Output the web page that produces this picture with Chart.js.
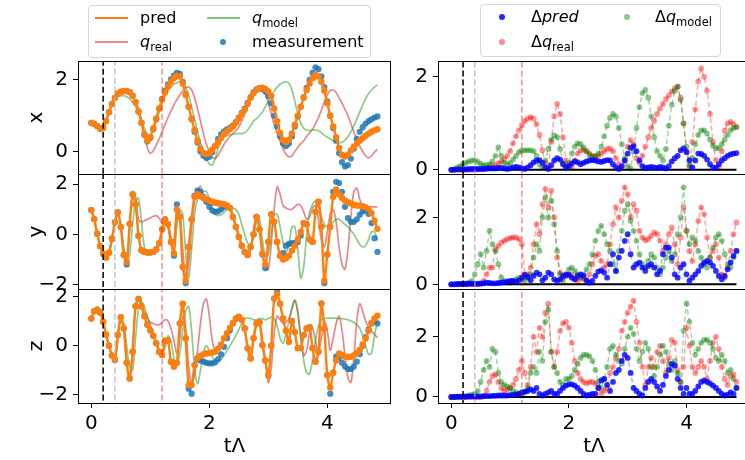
<!DOCTYPE html>
<html><head><meta charset="utf-8">
<script src="https://cdn.jsdelivr.net/npm/chart.js@4.4.0/dist/chart.umd.min.js"></script>
<style>
html,body{margin:0;padding:0;background:#fff;overflow:hidden;width:745px;height:460px;position:relative;font-family:"DejaVu Sans",sans-serif;}
canvas{position:absolute;}
.lg{position:absolute;border:1px solid #d6d6d6;border-radius:4px;background:rgba(255,255,255,0.9);z-index:5;box-sizing:border-box;}
.sw{position:absolute;z-index:6;}
.dot{position:absolute;z-index:6;width:6px;height:6px;border-radius:50%;}
.lt{position:absolute;z-index:6;font-size:16px;line-height:18px;white-space:nowrap;color:#000;}
.lt sub{font-size:11.5px;vertical-align:-4px;line-height:0;}
.lt i{font-style:italic;}
</style></head><body>
<canvas id="cL1"></canvas><canvas id="cL2"></canvas><canvas id="cL3"></canvas>
<canvas id="cR1"></canvas><canvas id="cR2"></canvas><canvas id="cR3"></canvas>

<div class="lg" style="left:88px;top:5px;width:283px;height:53px"></div>
<div class="sw" style="left:95px;top:17px;width:33px;height:2px;background:#ff7f0e"></div>
<div class="lt" style="left:140px;top:9px">pred</div>
<div class="sw" style="left:207px;top:17px;width:33px;height:2px;background:rgba(44,160,44,0.6)"></div>
<div class="lt" style="left:252px;top:9px"><i>q</i><sub>model</sub></div>
<div class="sw" style="left:95px;top:41px;width:33px;height:2px;background:rgba(214,39,40,0.55)"></div>
<div class="lt" style="left:140px;top:33px"><i>q</i><sub>real</sub></div>
<div class="dot" style="left:220px;top:39px;background:rgba(31,119,180,0.85)"></div>
<div class="lt" style="left:252px;top:33px">measurement</div>

<div class="lg" style="left:480px;top:4px;width:241px;height:53px"></div>
<div class="dot" style="left:499px;top:14px;background:rgba(0,0,255,0.85)"></div>
<div class="lt" style="left:531px;top:8px">Δ<i>pred</i></div>
<div class="dot" style="left:624px;top:14px;background:rgba(0,128,0,0.45)"></div>
<div class="lt" style="left:655px;top:8px">Δ<i>q</i><sub>model</sub></div>
<div class="dot" style="left:499px;top:39px;background:rgba(255,0,0,0.45)"></div>
<div class="lt" style="left:531px;top:33px">Δ<i>q</i><sub>real</sub></div>

<script>
// ---- data ----
const t = [0,0.05,0.1,0.15,0.2,0.25,0.3,0.35,0.4,0.45,
0.5,0.55,0.6,0.65,0.7,0.75,0.8,0.85,0.9,0.95,
1,1.05,1.1,1.15,1.2,1.25,1.3,1.35,1.4,1.45,
1.5,1.55,1.6,1.65,1.7,1.75,1.8,1.85,1.9,1.95,
2,2.05,2.1,2.15,2.2,2.25,2.3,2.35,2.4,2.45,
2.5,2.55,2.6,2.65,2.7,2.75,2.8,2.85,2.9,2.95,
3,3.05,3.1,3.15,3.2,3.25,3.3,3.35,3.4,3.45,
3.5,3.55,3.6,3.65,3.7,3.75,3.8,3.85,3.9,3.95,
4,4.05,4.1,4.15,4.2,4.25,4.3,4.35,4.4,4.45,
4.5,4.55,4.6,4.65,4.7,4.75,4.8,4.85];

const xPred = [0.8,0.77,0.71,0.64,0.66,0.85,1.1,1.33,1.5,1.62,
1.67,1.69,1.69,1.66,1.56,1.38,1.12,0.8,0.48,0.3,
0.4,0.65,0.92,1.2,1.45,1.65,1.82,1.95,2.05,2.12,
2.1,1.9,1.58,1.25,0.92,0.6,0.3,0.08,-0.04,-0.08,
-0.04,0.05,0.15,0.26,0.38,0.49,0.57,0.63,0.7,0.8,
0.92,1.05,1.17,1.33,1.5,1.63,1.72,1.77,1.78,1.75,
1.68,1.55,1.2,0.85,0.52,0.32,0.26,0.33,0.5,0.75,
1.0,1.25,1.5,1.72,1.9,2.05,2.14,2.1,1.95,1.7,
1.35,1.0,0.7,0.4,0.1,-0.1,-0.14,-0.08,0.03,0.13,
0.22,0.3,0.37,0.44,0.5,0.55,0.59,0.62];
const xMeas = [0.8,0.77,0.71,0.64,0.66,0.85,1.1,1.33,1.5,1.62,
1.67,1.69,1.69,1.66,1.56,1.38,1.12,0.8,0.46,0.28,
0.38,0.62,0.9,1.2,1.47,1.7,1.88,2.02,2.12,2.2,
2.17,1.95,1.6,1.25,0.9,0.55,0.25,0.0,-0.12,-0.18,
-0.15,-0.02,0.15,0.35,0.48,0.56,0.62,0.66,0.72,0.82,
0.95,1.08,1.2,1.36,1.52,1.65,1.74,1.77,1.75,1.68,
1.55,1.35,1.0,0.7,0.42,0.22,0.15,0.22,0.42,0.7,
0.98,1.25,1.52,1.78,2.0,2.2,2.35,2.3,2.1,1.8,
1.4,1.0,0.65,0.3,-0.05,-0.3,-0.42,-0.38,-0.2,0.08,
0.35,0.55,0.68,0.78,0.85,0.9,0.95,0.98];
const xReal = [0.8,0.77,0.71,0.64,0.66,0.85,1.1,1.33,1.5,1.62,
1.67,1.69,1.68,1.63,1.55,1.4,1.2,0.85,0.45,0.1,
-0.05,0.02,0.18,0.35,0.55,0.75,0.95,1.13,1.3,1.45,
1.58,1.7,1.78,1.8,1.72,1.5,1.2,0.85,0.5,0.2,
0.0,-0.15,-0.2,-0.1,0.05,0.2,0.32,0.42,0.5,0.58,
0.68,0.85,1.05,1.3,1.5,1.62,1.7,1.75,1.72,1.6,
1.35,1.05,0.75,0.5,0.28,0.08,-0.08,-0.15,-0.12,0.0,
0.12,0.22,0.3,0.42,0.52,0.62,0.78,0.95,1.15,1.38,
1.58,1.7,1.72,1.65,1.5,1.35,1.18,1.0,0.78,0.55,
0.35,0.15,0.0,-0.12,-0.18,-0.12,-0.02,0.06];
const xModel = [0.8,0.77,0.71,0.65,0.7,0.88,1.1,1.3,1.45,1.53,
1.56,1.56,1.53,1.47,1.38,1.25,1.1,0.9,0.65,0.47,
0.45,0.6,0.85,1.1,1.35,1.55,1.7,1.8,1.87,1.92,
1.95,1.93,1.8,1.55,1.25,0.9,0.55,0.25,0.0,-0.2,
-0.35,-0.38,-0.2,0.1,0.3,0.4,0.45,0.47,0.48,0.5,
0.5,0.5,0.52,0.6,0.72,0.85,0.92,1.0,1.1,1.25,
1.4,1.55,1.68,1.8,1.88,1.93,1.95,1.9,1.72,1.4,
1.05,0.8,0.65,0.6,0.58,0.6,0.6,0.58,0.52,0.45,
0.4,0.35,0.3,0.26,0.24,0.26,0.32,0.42,0.55,0.72,
0.9,1.1,1.3,1.48,1.62,1.72,1.8,1.86];

const yPred = [0.97,0.61,0.03,-0.47,-0.78,-0.92,-0.73,-0.17,0.48,0.88,
0.29,-0.82,-1.1,0.42,1.6,1.2,-0.05,-0.63,-0.7,-0.72,
-0.72,-0.7,-0.6,-0.35,0.2,0.6,0.4,-0.3,-0.76,1.0,
0.7,-1.3,-1.85,-0.5,0.6,1.5,1.6,1.52,1.45,1.4,
1.35,1.3,1.27,1.24,1.22,1.2,1.15,1.05,0.7,0.3,
-0.1,-0.45,-0.7,-0.82,-0.5,0.0,0.7,0.2,-0.76,-1.2,
-0.3,0.8,0.5,-0.3,-0.85,-1.0,-0.95,-0.85,-0.65,-0.45,
-0.2,0.1,0.45,0.4,-0.2,-0.3,0.9,1.3,0.3,-1.85,
-0.8,0.3,1.5,1.79,1.6,1.45,1.35,1.28,1.23,1.18,
1.15,1.14,1.12,1.08,1.0,0.85,0.55,0.22];
const yMeas = [0.97,0.61,0.03,-0.47,-0.78,-0.92,-0.73,-0.17,0.48,0.88,
0.29,-0.82,-1.2,0.42,1.6,1.2,-0.05,-0.63,-0.7,-0.72,
-0.72,-0.7,-0.6,-0.35,0.2,0.6,0.4,-0.3,-0.85,1.2,
0.7,-1.3,-1.95,-0.5,0.6,1.55,1.75,1.7,1.5,1.3,
1.1,0.95,0.9,0.92,1.0,1.1,1.12,1.05,0.7,0.3,
-0.1,-0.45,-0.7,-0.82,-0.5,0.0,0.7,0.2,-0.8,-1.35,
-0.3,0.8,0.5,-0.3,-0.85,-0.75,-0.45,-0.38,-0.35,-0.35,
-0.3,-0.05,0.45,0.4,-0.2,-0.3,0.9,1.3,0.3,-1.95,
-0.8,0.3,1.7,2.1,2.05,1.7,1.1,0.65,0.5,0.5,
0.6,0.78,0.92,0.95,0.82,0.45,-0.15,-0.7];
const yReal = [0.97,0.61,0.03,-0.47,-0.78,-0.92,-0.73,-0.17,0.48,0.88,
0.35,-0.75,-1.2,0.2,1.65,1.5,0.6,0.5,0.55,0.6,
0.65,0.72,0.75,0.65,0.45,0.5,0.3,-0.3,-0.2,0.9,
0.9,-0.6,-1.75,-1.2,0.3,1.3,1.75,1.92,1.5,1.25,
1.2,1.18,1.17,1.16,1.16,1.15,1.12,1.05,0.8,0.4,
0.0,-0.4,-0.75,-0.9,-0.6,0.2,0.8,0.3,-0.7,-1.3,
-1.4,-0.4,1.0,1.9,1.6,1.15,1.05,1.0,1.0,1.1,
1.2,1.15,0.9,0.6,0.7,1.05,1.15,0.6,-0.2,-0.5,
0.1,0.8,1.0,0.5,-0.5,-1.2,-1.4,-0.6,0.7,1.7,
1.85,1.4,1.15,1.12,1.1,1.1,1.1,1.1];
const yModel = [0.97,0.61,0.03,-0.47,-0.78,-0.92,-0.73,-0.2,0.4,0.8,
0.4,-0.5,-1.1,-0.8,0.4,1.3,1.45,0.5,-0.5,-0.65,
-0.7,-0.68,-0.55,-0.3,0.1,0.45,0.4,-0.1,-0.6,0.3,
1.0,0.8,-0.8,-1.75,-0.6,0.8,1.4,1.6,1.7,1.72,
1.4,1.0,0.8,0.75,0.78,0.88,1.0,1.05,1.05,1.0,
0.8,0.4,0.0,-0.35,-0.4,-0.1,0.5,0.6,-0.2,-0.9,
-0.8,0.1,0.8,0.8,0.3,-0.3,-0.7,-0.4,0.3,0.3,
-0.6,-1.75,-1.3,0.0,0.9,1.2,1.33,1.1,0.7,0.4,
0.3,0.35,0.5,0.6,0.6,0.5,0.4,0.3,0.15,0.0,
-0.2,-0.4,-0.5,-0.45,-0.2,0.1,0.1,-0.24];

const zPred = [1.1,1.4,1.46,1.35,0.97,0.45,0.0,-0.4,-0.58,0.43,
1.15,0.7,-0.7,-1.33,-0.25,1.6,1.9,1.6,1.2,0.85,
0.62,0.4,0.1,-0.25,-0.38,0.2,0.2,-0.65,-0.85,-0.7,
0.9,1.7,0.3,-1.6,-1.6,-0.79,-0.5,-0.42,-0.35,-0.32,
-0.3,-0.28,-0.25,-0.12,0.05,0.3,0.5,0.72,0.92,1.1,
1.17,1.05,0.7,-0.11,-0.52,0.3,0.9,0.95,0.02,-0.6,
-1.2,0.0,1.91,2.1,1.7,1.1,0.6,0.16,1.0,0.55,
-0.1,-0.1,0.43,0.7,0.75,-0.1,-0.65,-0.25,1.71,0.7,
-1.2,-1.7,-1.1,-0.6,-0.32,-0.38,-0.45,-0.46,-0.45,-0.4,
-0.3,-0.18,0.05,0.29,0.6,0.92,1.1,1.22];
const zMeas = [1.1,1.4,1.46,1.35,0.97,0.45,0.0,-0.4,-0.58,0.43,
1.15,0.7,-0.7,-1.33,-0.25,1.6,1.9,1.6,1.2,0.85,
0.62,0.4,0.1,-0.25,-0.38,0.2,0.2,-0.65,-0.85,-0.7,
0.9,1.7,0.3,-1.75,-1.95,-0.79,-0.55,-0.6,-0.65,-0.7,
-0.72,-0.72,-0.68,-0.55,-0.35,-0.05,0.3,0.62,0.9,1.08,
1.17,1.05,0.7,-0.11,-0.52,0.3,0.9,0.95,0.02,-0.6,
-1.2,0.0,1.91,2.2,1.7,1.1,0.6,0.16,1.0,0.55,
-0.1,-0.1,0.43,0.7,0.75,-0.1,-0.65,-0.25,1.71,0.7,
-1.2,-1.95,-1.1,-0.45,-0.5,-0.7,-0.85,-0.95,-0.95,-0.85,
-0.65,-0.35,0.0,0.35,0.65,0.9,1.0,0.9];
const zReal = [1.1,1.4,1.46,1.35,0.97,0.45,0.0,-0.4,-0.58,0.43,
1.15,0.7,-0.7,-1.33,-0.25,1.6,1.95,1.7,1.35,1.1,
0.95,0.9,0.85,0.85,0.95,1.05,1.0,0.7,0.2,-0.3,
0.3,1.2,0.7,-0.8,-1.6,-1.2,-0.2,0.9,1.7,1.9,
1.2,0.2,-0.2,-0.15,0.0,0.25,0.5,0.75,0.95,1.1,
1.15,1.05,0.6,0.0,-0.4,0.2,0.8,1.0,0.3,-0.6,
-1.5,-0.9,0.5,1.2,1.05,0.9,0.95,1.1,1.5,1.84,
1.3,0.3,-0.4,-0.2,0.5,0.7,0.2,-0.3,0.3,1.0,
0.6,-0.2,0.3,0.9,1.2,0.6,-0.4,-1.3,-1.5,-0.5,
1.0,1.7,1.4,1.0,0.75,0.6,0.45,0.32];
const zModel = [1.1,1.4,1.46,1.35,0.97,0.45,0.0,-0.4,-0.58,0.3,
1.0,0.9,0.0,-0.9,-1.0,0.3,1.5,1.8,1.55,1.2,
0.85,0.5,0.15,-0.15,-0.3,-0.1,0.4,0.2,-0.5,-0.8,
-0.3,0.6,1.4,1.6,0.6,-0.9,-1.55,-1.0,-0.3,0.0,
-0.2,-0.45,-0.6,-0.62,-0.55,-0.4,-0.2,0.0,0.2,0.4,
0.65,0.9,1.08,1.12,1.1,1.05,1.05,1.1,1.1,1.05,
1.1,1.15,1.1,0.8,0.3,0.1,0.5,1.0,1.5,1.85,
1.4,0.4,-0.6,-1.1,-1.15,-0.6,0.2,0.8,1.05,1.1,
1.12,1.12,1.12,1.12,1.1,1.1,1.08,1.05,1.0,0.95,
0.85,0.7,0.4,0.0,-0.35,-0.3,0.4,1.0];

const dxPred = [0,0,0.01,0.01,0.01,0.01,0.02,0.02,0.02,0.02,
0.02,0.02,0.03,0.03,0.03,0.03,0.04,0.04,0.03,0.02,
0.03,0.05,0.06,0.05,0.03,0.02,0.05,0.1,0.16,0.2,
0.21,0.15,0.05,0.02,0.1,0.2,0.25,0.22,0.12,0.05,
0.08,0.14,0.18,0.16,0.12,0.15,0.18,0.2,0.21,0.2,
0.18,0.17,0.19,0.21,0.2,0.12,0.05,0.02,0.08,0.2,
0.35,0.47,0.51,0.4,0.2,0.08,0.04,0.05,0.06,0.05,
0.04,0.06,0.05,0.03,0.08,0.18,0.25,0.3,0.42,0.46,
0.38,0.2,0.05,0.2,0.35,0.34,0.3,0.22,0.12,0.05,
0.04,0.12,0.2,0.25,0.3,0.33,0.35,0.36];
const dxReal = [0,0,0,0,0,0,0,0,0,0.01,
0.01,0.01,0.02,0.04,0.07,0.1,0.14,0.18,0.23,0.3,
0.4,0.57,0.72,0.85,0.96,1.05,1.1,1.13,1.1,0.98,
0.75,0.42,0.15,0.07,0.6,1.15,1.42,1.2,0.7,0.2,
0.1,0.05,0.2,0.35,0.42,0.43,0.4,0.35,0.3,0.28,
0.3,0.35,0.4,0.45,0.46,0.4,0.25,0.12,0.07,0.2,
0.5,0.64,0.55,0.25,0.15,0.3,0.5,0.7,0.9,1.05,
1.2,1.32,1.42,1.52,1.6,1.68,1.75,1.79,1.55,1.0,
0.4,0.07,0.6,1.3,1.9,2.18,2.0,1.7,1.2,0.6,
0.21,0.07,0.4,0.85,1.0,1.03,0.98,0.92];
const dxModel = [0,0.02,0.05,0.08,0.12,0.15,0.18,0.2,0.2,0.17,
0.13,0.1,0.1,0.12,0.18,0.3,0.48,0.3,0.15,0.12,
0.15,0.22,0.3,0.38,0.41,0.42,0.42,0.42,0.4,0.3,
0.12,0.05,0.2,0.45,0.65,0.74,0.7,0.45,0.15,0.05,
0.15,0.35,0.5,0.57,0.55,0.48,0.4,0.32,0.28,0.3,
0.35,0.5,0.72,0.95,1.12,1.2,1.15,0.9,0.55,0.25,
0.08,0.03,0.4,0.9,1.35,1.65,1.72,1.55,1.15,0.7,
0.4,0.3,0.2,0.45,0.95,1.4,1.7,1.79,1.5,1.0,
0.5,0.1,0.25,0.55,0.75,0.85,0.85,0.78,0.65,0.52,
0.46,0.47,0.55,0.65,0.75,0.85,0.9,0.92];

const dyPred = [0,0,0.01,0.01,0.01,0.01,0.02,0.02,0.02,0.02,
0.03,0.03,0.05,0.04,0.03,0.03,0.04,0.05,0.06,0.08,
0.1,0.1,0.08,0.12,0.2,0.28,0.22,0.12,0.25,0.35,
0.3,0.12,0.2,0.35,0.3,0.15,0.1,0.15,0.25,0.3,
0.28,0.2,0.15,0.25,0.3,0.25,0.12,0.05,0.1,0.25,
0.38,0.42,0.35,0.2,0.6,0.9,0.4,0.8,1.0,1.3,
1.5,0.9,0.5,0.6,0.65,0.5,0.4,0.55,0.6,0.5,
0.3,0.4,0.9,1.1,1.1,0.8,0.3,0.2,0.5,0.6,
0.3,0.1,0.2,0.3,0.4,0.55,0.65,0.7,0.65,0.55,
0.4,0.25,0.15,0.25,0.45,0.65,0.85,1.0];
const dyReal = [0,0,0,0,0,0,0,0,0,0,
0,0.1,0.3,0.5,0.5,1.05,1.15,1.25,1.3,1.35,
1.38,1.4,1.4,1.35,1.2,0.3,0.3,0.5,1.2,1.8,
1.5,2.4,2.85,2.3,2.8,2.0,0.8,0.35,0.2,0.25,
0.3,0.28,0.15,0.1,0.2,0.15,0.1,0.3,0.6,0.85,
0.9,0.7,0.5,0.6,1.2,1.8,2.3,2.0,2.5,2.9,
2.7,2.0,2.4,2.2,1.6,1.4,1.32,1.35,1.45,1.55,
1.5,1.3,1.0,1.2,1.5,1.7,1.2,0.6,1.4,2.3,
1.6,1.0,0.7,1.2,1.9,2.3,2.1,1.4,0.8,1.0,
1.2,0.8,0.3,0.2,0.5,1.0,1.5,1.85];
const dyModel = [0,0,0,0.01,0.02,0.03,0.05,0.1,0.3,0.6,
0.9,0.5,1.0,1.6,1.2,1.0,0.6,0.2,0.1,0.05,
0.05,0.1,0.15,0.2,0.15,0.1,0.2,0.3,0.8,1.2,
1.0,2.0,2.6,2.0,2.5,1.8,1.0,0.3,0.1,0.25,
0.45,0.5,0.4,0.3,0.2,0.3,0.45,0.6,0.9,1.3,
1.6,1.75,1.5,1.2,1.0,0.6,0.4,1.0,1.6,2.2,
2.4,1.9,1.6,1.3,0.9,0.6,0.5,0.7,0.9,0.8,
0.5,0.3,0.5,0.8,1.0,0.7,0.9,1.5,2.0,2.9,
1.6,1.2,1.4,1.3,1.0,0.8,0.6,0.5,0.8,1.1,
1.4,1.5,1.3,0.9,0.6,0.5,0.8,1.0];

const dzPred = [0,0,0.01,0.01,0.01,0.01,0.02,0.02,0.02,0.02,
0.02,0.03,0.03,0.03,0.04,0.04,0.05,0.05,0.05,0.05,
0.06,0.07,0.08,0.1,0.15,0.18,0.2,0.25,0.2,0.3,
0.1,0.05,0.1,0.15,0.2,0.1,0.1,0.2,0.3,0.38,
0.42,0.42,0.38,0.3,0.2,0.1,0.05,0.08,0.1,0.1,
0.3,0.55,0.6,0.4,0.2,0.5,0.8,0.9,1.2,1.4,
1.3,0.8,0.3,0.2,0.1,0.05,0.3,0.5,0.6,0.5,
0.35,0.2,0.4,0.7,0.9,1.1,1.05,0.6,0.3,0.1,
0.3,0.1,0.1,0.2,0.35,0.5,0.55,0.5,0.45,0.38,
0.3,0.2,0.1,0.05,0.08,0.15,0.1,0.3];
const dzReal = [0,0,0,0,0,0,0,0,0,0,
0,0.02,0.2,0.5,0.7,0.75,0.5,0.3,0.2,0.25,
0.3,0.4,0.6,0.9,1.2,0.8,0.4,1.0,2.0,1.5,
2.3,2.0,2.8,3.1,1.5,1.0,1.5,2.2,2.45,2.5,
2.3,1.8,1.2,0.8,0.6,0.5,0.45,0.5,0.5,0.45,
0.3,0.1,0.2,0.3,0.8,1.0,1.3,1.6,2.2,2.5,
2.8,3.0,3.2,2.5,1.8,1.0,0.4,1.0,1.3,1.0,
1.5,1.7,1.2,0.8,1.3,1.9,1.8,0.9,0.5,1.0,
2.3,1.7,1.0,0.8,1.0,1.2,1.0,0.6,1.2,1.8,
2.0,1.6,1.0,0.6,0.4,0.7,0.75,0.5];
const dzModel = [0,0,0,0.01,0.02,0.03,0.05,0.08,0.1,0.2,
0.5,0.9,1.2,1.0,1.6,1.5,0.8,0.5,0.4,0.35,
0.3,0.2,0.15,0.1,0.05,0.15,0.3,0.8,1.0,0.8,
1.5,1.2,2.5,2.9,1.5,1.0,0.8,0.5,0.4,0.6,
0.6,0.7,0.9,1.1,1.3,1.4,1.4,1.35,1.2,0.9,
0.5,0.3,0.6,1.0,1.6,1.7,1.4,1.2,1.1,1.6,
2.0,2.3,2.1,1.6,1.2,1.5,1.8,1.6,1.0,0.7,
1.0,1.4,1.7,1.5,1.1,0.9,1.2,0.8,0.5,2.2,
3.1,2.5,1.8,1.4,1.6,1.8,1.9,1.9,1.8,1.6,
1.3,1.2,1.4,1.2,0.8,0.9,0.6,0.3];

const eventTimes = [0.2, 0.4, 1.2];
const xTicks = [0, 2, 4];
const yTicksL1 = [0, 2];
const yTicksL23 = [-2, 0, 2];
const yTicksR = [0, 2];
const xTitle = 'tΛ';

// ---- rendering ----
const FONT = "'DejaVu Sans', sans-serif";
const XMIN = -0.226, XMAX = 5.08;
const pts = ys => t.map((x, i) => ({x: x, y: ys[i]}));
const fmt = v => (v < 0 ? '\u2212' + Math.abs(v) : String(v));
const eventColors = ['#000000', 'rgba(175,175,175,0.75)', 'rgba(255,0,0,0.45)'];

function eventSets(yMin, yMax) {
  return eventTimes.map((v, k) => ({
    data: [{x: v, y: yMin - 1}, {x: v, y: yMax + 1}],
    borderColor: eventColors[k], borderWidth: 1.5, borderDash: [6, 3],
    pointRadius: 0, tension: 0, order: 0
  }));
}

const framePlugin = {
  id: 'frame',
  afterDraw(chart) {
    const {ctx, chartArea: a} = chart;
    ctx.save();
    ctx.strokeStyle = '#000';
    ctx.lineWidth = 1;
    ctx.strokeRect(Math.round(a.left) + 0.5, Math.round(a.top) + 0.5,
                   Math.round(a.right - a.left) - 1, Math.round(a.bottom - a.top));
    ctx.restore();
  }
};

function panel(id, g) {
  const cv = document.getElementById(id);
  cv.width = g.w; cv.height = g.h;
  cv.style.left = g.left + 'px'; cv.style.top = g.top + 'px';
  cv.style.width = g.w + 'px'; cv.style.height = g.h + 'px';
  const tickFont = {family: FONT, size: 20};
  new Chart(cv, {
    type: 'line',
    data: {datasets: g.datasets},
    plugins: [framePlugin],
    options: {
      responsive: false, animation: false, events: [],
      devicePixelRatio: 1,
      layout: {padding: {top: 12, bottom: g.showX ? 0 : 12, left: 0, right: 2}},
      plugins: {legend: {display: false}, tooltip: {enabled: false}},
      scales: {
        x: {
          type: 'linear', min: XMIN, max: XMAX, display: g.showX,
          afterBuildTicks: s => { s.ticks = xTicks.map(v => ({value: v})); },
          afterFit: s => { if (g.showX) { s.height = 57; s.paddingLeft = 0; s.paddingRight = 0; } },
          grid: {display: true, drawOnChartArea: false, drawTicks: true, tickLength: 5, tickColor: '#000', tickWidth: 1},
          border: {display: false},
          ticks: {font: tickFont, color: '#000', padding: 4, maxRotation: 0, autoSkip: false, callback: v => fmt(v)},
          title: {display: true, text: xTitle, font: tickFont, color: '#000', padding: {top: 2, bottom: 1}}
        },
        y: {
          type: 'linear', min: g.yMin, max: g.yMax,
          afterBuildTicks: s => { s.ticks = g.yTicks.map(v => ({value: v})); },
          afterFit: s => { s.width = g.yW; s.paddingTop = 0; s.paddingBottom = 0; },
          grid: {display: true, drawOnChartArea: false, drawTicks: true, tickLength: 5, tickColor: '#000', tickWidth: 1},
          border: {display: false},
          ticks: {font: tickFont, color: '#000', padding: 5, autoSkip: false, callback: v => fmt(v)},
          title: {display: !!g.yTitle, text: g.yTitle || '', font: tickFont, color: '#000', padding: {top: 25, bottom: 0}}
        }
      }
    }
  });
}

function leftSets(pred, meas, real, model, yMin, yMax) {
  return eventSets(yMin, yMax).concat([
    {label: 'pred', data: pts(pred), borderColor: '#ff7f0e', borderWidth: 2.4,
     pointRadius: 3.2, pointBorderWidth: 0, pointBackgroundColor: '#ff7f0e', tension: 0.3, order: 1},
    {label: 'measurement', data: pts(meas), showLine: false, borderColor: 'rgba(31,119,180,0.85)',
     pointRadius: 3.1, pointBorderWidth: 0, pointBackgroundColor: 'rgba(31,119,180,0.85)', order: 2},
    {label: 'q_model', data: pts(model), borderColor: 'rgba(44,160,44,0.55)', borderWidth: 1.7,
     pointRadius: 0, tension: 0.3, order: 3},
    {label: 'q_real', data: pts(real), borderColor: 'rgba(214,39,40,0.55)', borderWidth: 1.7,
     pointRadius: 0, tension: 0.3, order: 4}
  ]);
}

function rightSets(dPred, dReal, dModel, yMin, yMax) {
  return eventSets(yMin, yMax).concat([
    {label: 'Δpred', data: pts(dPred), borderColor: 'rgba(0,0,255,0.3)', borderWidth: 1.5, borderDash: [5, 3],
     pointRadius: 2.9, pointBorderWidth: 0, pointBackgroundColor: 'rgba(0,0,255,0.8)', tension: 0, order: 1},
    {data: [{x: t[0], y: 0}, {x: t[t.length - 1], y: 0}], borderColor: '#000', borderWidth: 2,
     pointRadius: 0, tension: 0, order: 2},
    {label: 'Δq_model', data: pts(dModel), borderColor: 'rgba(0,128,0,0.35)', borderWidth: 1.5, borderDash: [5, 3],
     pointRadius: 2.9, pointBorderWidth: 0, pointBackgroundColor: 'rgba(0,128,0,0.45)', tension: 0, order: 3},
    {label: 'Δq_real', data: pts(dReal), borderColor: 'rgba(255,0,0,0.35)', borderWidth: 1.5, borderDash: [5, 3],
     pointRadius: 2.9, pointBorderWidth: 0, pointBackgroundColor: 'rgba(255,0,0,0.42)', tension: 0, order: 4}
  ]);
}

// left column (chart area x 78..393), right column (438..752)
const L = {left: 0, w: 395, yW: 78};
const R = {left: 380, w: 374, yW: 58};
const rows = [
  {top: 49, h: 137, showX: false},
  {top: 162, h: 139, showX: false},
  {top: 277, h: 183, showX: true}
];
const yLim = {
  L1: [-0.63, 2.53], L2: [-2.18, 2.41], L3: [-2.33, 2.3],
  R1: [-0.09, 2.34], R2: [-0.14, 3.3], R3: [-0.2, 3.59]
};

panel('cL1', Object.assign({}, L, rows[0], {yMin: yLim.L1[0], yMax: yLim.L1[1], yTicks: yTicksL1, yTitle: 'x',
  datasets: leftSets(xPred, xMeas, xReal, xModel, yLim.L1[0], yLim.L1[1])}));
panel('cL2', Object.assign({}, L, rows[1], {yMin: yLim.L2[0], yMax: yLim.L2[1], yTicks: yTicksL23, yTitle: 'y',
  datasets: leftSets(yPred, yMeas, yReal, yModel, yLim.L2[0], yLim.L2[1])}));
panel('cL3', Object.assign({}, L, rows[2], {yMin: yLim.L3[0], yMax: yLim.L3[1], yTicks: yTicksL23, yTitle: 'z',
  datasets: leftSets(zPred, zMeas, zReal, zModel, yLim.L3[0], yLim.L3[1])}));
panel('cR1', Object.assign({}, R, rows[0], {yMin: yLim.R1[0], yMax: yLim.R1[1], yTicks: yTicksR,
  datasets: rightSets(dxPred, dxReal, dxModel, yLim.R1[0], yLim.R1[1])}));
panel('cR2', Object.assign({}, R, rows[1], {yMin: yLim.R2[0], yMax: yLim.R2[1], yTicks: yTicksR,
  datasets: rightSets(dyPred, dyReal, dyModel, yLim.R2[0], yLim.R2[1])}));
panel('cR3', Object.assign({}, R, rows[2], {yMin: yLim.R3[0], yMax: yLim.R3[1], yTicks: yTicksR,
  datasets: rightSets(dzPred, dzReal, dzModel, yLim.R3[0], yLim.R3[1])}));
</script>
</body></html>
